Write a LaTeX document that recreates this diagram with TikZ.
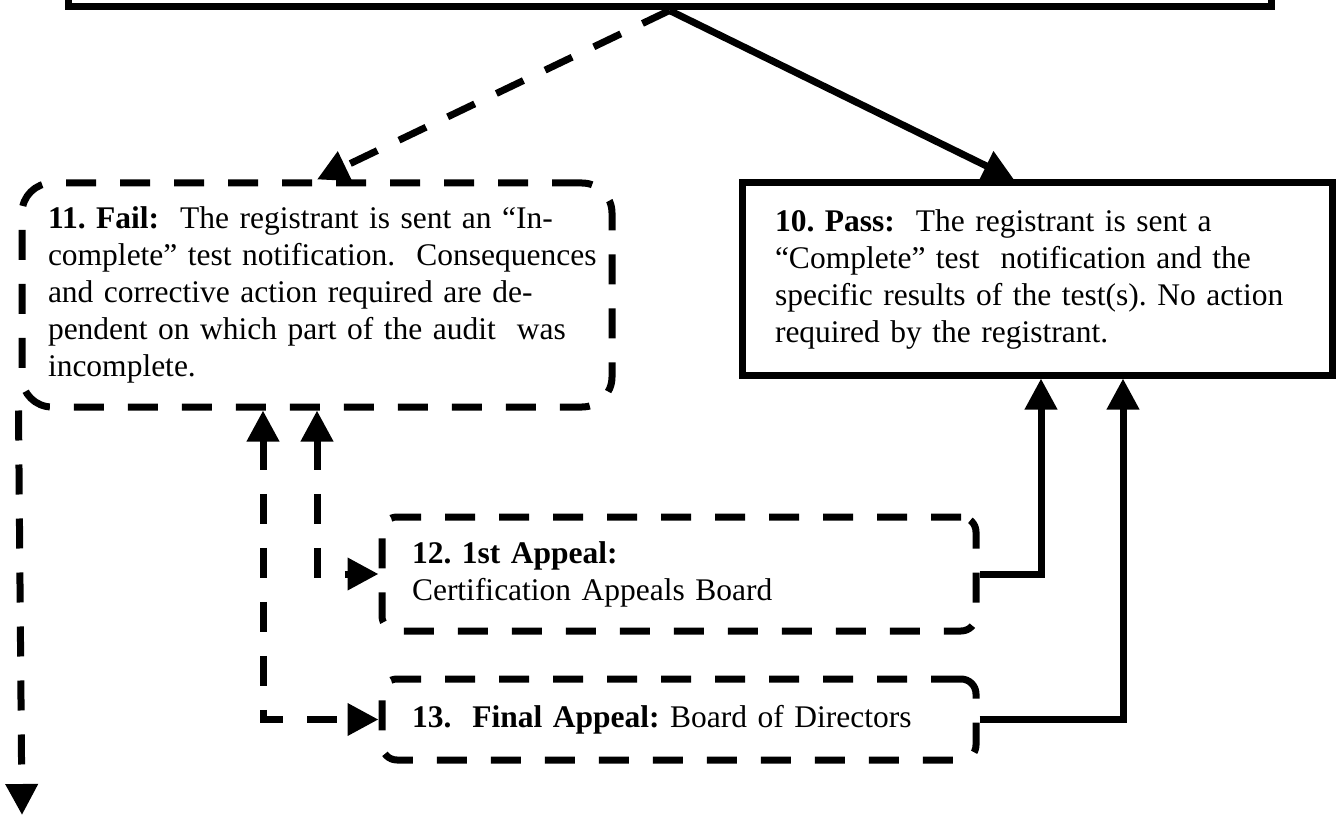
\documentclass[tikz,border=0pt]{standalone}
\usepackage{fontspec}
\setmainfont{Liberation Serif}
\usetikzlibrary{arrows.meta,positioning}

\begin{document}
\begin{tikzpicture}[x=1pt,y=-1pt,>={Triangle[length=31pt,width=31pt]}]
\tikzstyle{solidbox}=[draw=black,line width=7pt,fill=white,inner xsep=27pt,inner ysep=0pt,align=left,font=\fontsize{31.5}{37}\selectfont\frenchspacing]
\tikzstyle{dashbox}=[solidbox,dash pattern=on 30pt off 24pt]
\tikzstyle{solidlink}=[->,line width=7pt]
\tikzstyle{dashlink}=[solidlink,dash pattern=on 30pt off 24pt]

\useasboundingbox (0,0) rectangle (1338,818);
\clip (0,0) rectangle (1338,818);

\node[solidbox,minimum width=1203pt,minimum height=160pt] (audit) at (669.5,-73) {};
\node[dashbox,rounded corners=30pt,inner xsep=26pt,text width=538pt,minimum height=224pt] (fail) at (317,295)
  {\mbox{\textbf{11. Fail:}\ \ The registrant is sent an “In-}\\\mbox{complete” test notification.\ \ Consequences}\\\mbox{and corrective action required are de-}\\\mbox{pendent on which part of the audit\ \ was}\\incomplete.};
\node[solidbox,inner xsep=33pt,text width=524pt,minimum height=192pt] (pass) at (1037,279)
  {\mbox{\textbf{10. Pass:}\ \ The registrant is sent a}\\\mbox{“Complete” test\ \ notification and the}\\\mbox{specific results of the test(s). No action}\\required by the registrant.};
\node[dashbox,rounded corners=15pt,inner xsep=30pt,text width=534pt,minimum height=114pt] (appeal1) at (679,574)
  {\textbf{12. 1st Appeal:}\\Certification Appeals Board};
\node[dashbox,rounded corners=15pt,inner xsep=30pt,text width=534pt,minimum height=81pt] (appeal2) at (679,719.5)
  {\textbf{13.\ \ Final Appeal:} Board of Directors};
\coordinate (exit) at (22,815);

\draw[dashlink] (audit.south) -- (fail.north);
\draw[solidlink] (audit.south) -- ([xshift=-23pt]pass.north);
\draw[dashlink,<->] (fail.south) |- (appeal1.west);
\draw[dashlink,<->] ([xshift=-54pt]fail.south) |- (appeal2.west);
\draw[solidlink] (appeal1.east) -| ([xshift=4pt]pass.south);
\draw[solidlink] (appeal2.east) -| ([xshift=86pt]pass.south);
\draw[dashlink] (fail.south west) -- (exit);
\end{tikzpicture}
\end{document}
